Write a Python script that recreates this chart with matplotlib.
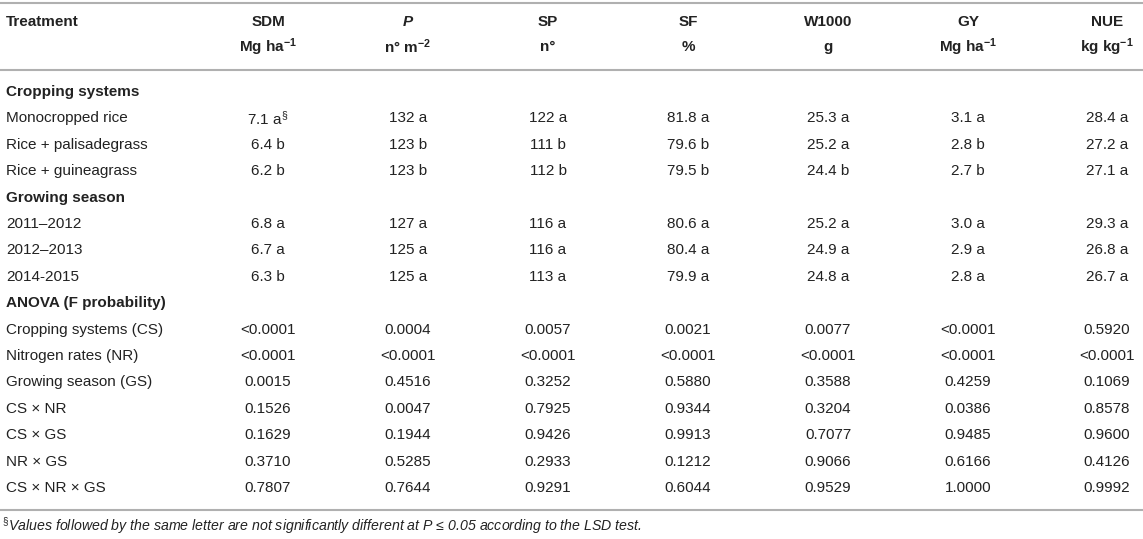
import matplotlib
matplotlib.use("Agg")
import matplotlib.pyplot as plt

plt.rcParams['font.family'] = ['Liberation Sans', 'DejaVu Sans']
plt.rcParams['mathtext.fontset'] = 'custom'
plt.rcParams['mathtext.rm'] = 'Liberation Sans'
plt.rcParams['mathtext.it'] = 'Liberation Sans:italic'
plt.rcParams['mathtext.bf'] = 'Liberation Sans:bold'

# ---- data ----
columns = ["SDM", "P", "SP", "SF", "W1000", "GY", "NUE"]
units = [r"Mg ha$^{\mathbf{-1}}$", r"n° m$^{\mathbf{-2}}$", "n°", "%", "g",
         r"Mg ha$^{\mathbf{-1}}$", r"kg kg$^{\mathbf{-1}}$"]

cropping_labels = ["Monocropped rice", "Rice + palisadegrass", "Rice + guineagrass"]
cropping_values = [
    [r"7.1 a$^{\S}$", "132 a", "122 a", "81.8 a", "25.3 a", "3.1 a", "28.4 a"],
    ["6.4 b", "123 b", "111 b", "79.6 b", "25.2 a", "2.8 b", "27.2 a"],
    ["6.2 b", "123 b", "112 b", "79.5 b", "24.4 b", "2.7 b", "27.1 a"],
]

season_labels = ["2011–2012", "2012–2013", "2014-2015"]
season_values = [
    ["6.8 a", "127 a", "116 a", "80.6 a", "25.2 a", "3.0 a", "29.3 a"],
    ["6.7 a", "125 a", "116 a", "80.4 a", "24.9 a", "2.9 a", "26.8 a"],
    ["6.3 b", "125 a", "113 a", "79.9 a", "24.8 a", "2.8 a", "26.7 a"],
]

anova_labels = ["Cropping systems (CS)", "Nitrogen rates (NR)", "Growing season (GS)",
                "CS × NR", "CS × GS", "NR × GS", "CS × NR × GS"]
anova_values = [
    ["<0.0001", "0.0004", "0.0057", "0.0021", "0.0077", "<0.0001", "0.5920"],
    ["<0.0001", "<0.0001", "<0.0001", "<0.0001", "<0.0001", "<0.0001", "<0.0001"],
    ["0.0015", "0.4516", "0.3252", "0.5880", "0.3588", "0.4259", "0.1069"],
    ["0.1526", "0.0047", "0.7925", "0.9344", "0.3204", "0.0386", "0.8578"],
    ["0.1629", "0.1944", "0.9426", "0.9913", "0.7077", "0.9485", "0.9600"],
    ["0.3710", "0.5285", "0.2933", "0.1212", "0.9066", "0.6166", "0.4126"],
    ["0.7807", "0.7644", "0.9291", "0.6044", "0.9529", "1.0000", "0.9992"],
]

sections = [
    ("Cropping systems", cropping_labels, cropping_values),
    ("Growing season", season_labels, season_values),
    ("ANOVA (F probability)", anova_labels, anova_values),
]

footnote = r"$^{\S}$Values followed by the same letter are not significantly different at P ≤ 0.05 according to the LSD test."

# ---- layout ----
W, H = 1143, 539
fig = plt.figure(figsize=(W / 100, H / 100), dpi=100)
ax = fig.add_axes([0, 0, 1, 1])
ax.set_xlim(0, W)
ax.set_ylim(H, 0)
ax.axis("off")

txt_color = "#222222"
line_color = "#b0b0b0"
fs = 11
col_x = [268, 408, 548, 688, 828, 968, 1107]
left_x = 6

ax.plot([0, W], [3, 3], color=line_color, lw=1.5, solid_capstyle="butt")
ax.plot([0, W], [70, 70], color=line_color, lw=1.5, solid_capstyle="butt")
ax.plot([0, W], [510, 510], color=line_color, lw=1.5, solid_capstyle="butt")

ax.text(left_x, 22, "Treatment", ha="left", va="center", fontsize=fs,
        fontweight="bold", color=txt_color)
for x, c, u in zip(col_x, columns, units):
    style = "italic" if c == "P" else "normal"
    ax.text(x, 22, c, ha="center", va="center", fontsize=fs, fontweight="bold",
            fontstyle=style, color=txt_color)
    ax.text(x, 47, u, ha="center", va="center", fontsize=fs, fontweight="bold",
            color=txt_color)

y = 92
step = 26.4
for title, labels, values in sections:
    ax.text(left_x, y, title, ha="left", va="center", fontsize=fs,
            fontweight="bold", color=txt_color)
    y += step
    for lab, row in zip(labels, values):
        ax.text(left_x, y, lab, ha="left", va="center", fontsize=fs, color=txt_color)
        for x, v in zip(col_x, row):
            ax.text(x, y, v, ha="center", va="center", fontsize=fs, color=txt_color)
        y += step

ax.text(2, 526, footnote, ha="left", va="center", fontsize=10.2,
        fontstyle="italic", color=txt_color)

fig.savefig("out.png", dpi=100, facecolor="white")
